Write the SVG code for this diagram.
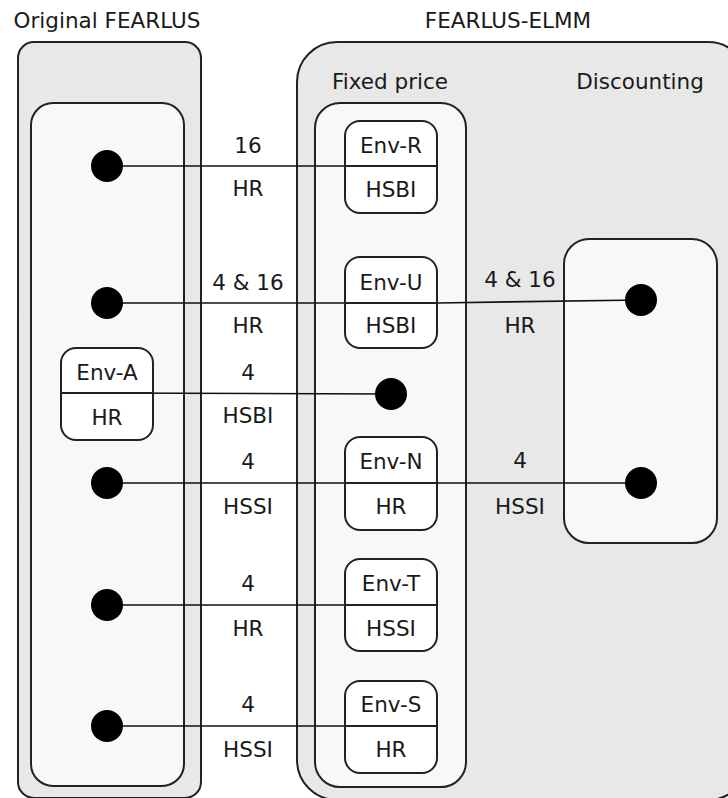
<svg xmlns="http://www.w3.org/2000/svg" width="728" height="798" viewBox="0 0 728 798">
<style>
text{font-family:"DejaVu Sans","Verdana",sans-serif;font-size:21.5px;fill:#1a1a1a;text-anchor:middle}
.outer{fill:#e8e8e8;stroke:#222;stroke-width:2}
.inner{fill:#f8f8f8;stroke:#222;stroke-width:2}
.env{fill:#fff;stroke:#222;stroke-width:2}
.div{stroke:#222;stroke-width:2}
.conn{stroke:#111;stroke-width:1.7;fill:none}
.dot{fill:#000}
</style>
<rect width="728" height="798" fill="#fff"/>
<g id="original-fearlus">
<rect class="outer" x="18" y="42" width="183" height="756" rx="16"/>
<text x="107" y="28">Original FEARLUS</text>
<rect class="inner" x="31" y="103" width="153" height="683" rx="22"/>
</g>
<g id="fearlus-elmm">
<rect class="outer" x="297" y="42" width="451" height="758" rx="40"/>
<text x="508" y="28">FEARLUS-ELMM</text>
</g>
<g id="fixed-price">
<text x="390" y="89">Fixed price</text>
<rect class="inner" x="315" y="103" width="151" height="684" rx="25"/>
</g>
<g id="discounting">
<text x="640" y="89">Discounting</text>
<rect class="inner" x="564" y="239" width="153" height="304" rx="25"/>
</g>
<g id="connectors">
<line class="conn" x1="107" y1="166" x2="391" y2="166"/>
<line class="conn" x1="107" y1="303" x2="437" y2="303"/>
<line class="conn" x1="437" y1="303" x2="641" y2="300"/>
<line class="conn" x1="107" y1="393" x2="391" y2="394"/>
<line class="conn" x1="107" y1="483" x2="641" y2="483"/>
<line class="conn" x1="107" y1="605" x2="391" y2="605"/>
<line class="conn" x1="107" y1="726" x2="391" y2="726"/>
<text x="248" y="153">16</text>
<text x="248" y="196">HR</text>
<text x="248" y="290">4 &amp; 16</text>
<text x="248" y="333">HR</text>
<text x="248" y="380">4</text>
<text x="248" y="423">HSBI</text>
<text x="248" y="469">4</text>
<text x="248" y="514">HSSI</text>
<text x="248" y="591">4</text>
<text x="248" y="636">HR</text>
<text x="248" y="712">4</text>
<text x="248" y="757">HSSI</text>
<text x="520" y="287">4 &amp; 16</text>
<text x="520" y="333">HR</text>
<text x="520" y="468">4</text>
<text x="520" y="514">HSSI</text>
</g>
<g id="dot-o1"><circle class="dot" cx="107" cy="166" r="16"/></g>
<g id="dot-o2"><circle class="dot" cx="107" cy="303" r="16"/></g>
<g id="dot-o3"><circle class="dot" cx="107" cy="483" r="16"/></g>
<g id="dot-o4"><circle class="dot" cx="107" cy="605" r="16"/></g>
<g id="dot-o5"><circle class="dot" cx="107" cy="726" r="16"/></g>
<g id="dot-f1"><circle class="dot" cx="391" cy="394" r="16"/></g>
<g id="dot-d1"><circle class="dot" cx="641" cy="300" r="16"/></g>
<g id="dot-d2"><circle class="dot" cx="641" cy="483" r="16"/></g>
<g id="env-a">
<rect class="env" x="61" y="348" width="92" height="92" rx="15"/>
<line class="div" x1="61" y1="393" x2="153" y2="393"/>
<text x="107" y="380">Env-A</text>
<text x="107" y="425">HR</text>
</g>
<g id="env-r">
<rect class="env" x="345" y="121" width="92" height="92" rx="15"/>
<line class="div" x1="345" y1="166" x2="437" y2="166"/>
<text x="391" y="153">Env-R</text>
<text x="391" y="197">HSBI</text>
</g>
<g id="env-u">
<rect class="env" x="345" y="257" width="92" height="91" rx="15"/>
<line class="div" x1="345" y1="303" x2="437" y2="303"/>
<text x="391" y="290">Env-U</text>
<text x="391" y="333">HSBI</text>
</g>
<g id="env-n">
<rect class="env" x="345" y="437" width="92" height="93" rx="15"/>
<line class="div" x1="345" y1="483" x2="437" y2="483"/>
<text x="391" y="469">Env-N</text>
<text x="391" y="514">HR</text>
</g>
<g id="env-t">
<rect class="env" x="345" y="559" width="92" height="92" rx="15"/>
<line class="div" x1="345" y1="605" x2="437" y2="605"/>
<text x="391" y="591">Env-T</text>
<text x="391" y="636">HSSI</text>
</g>
<g id="env-s">
<rect class="env" x="345" y="681" width="92" height="92" rx="15"/>
<line class="div" x1="345" y1="726" x2="437" y2="726"/>
<text x="391" y="712">Env-S</text>
<text x="391" y="757">HR</text>
</g>
</svg>
